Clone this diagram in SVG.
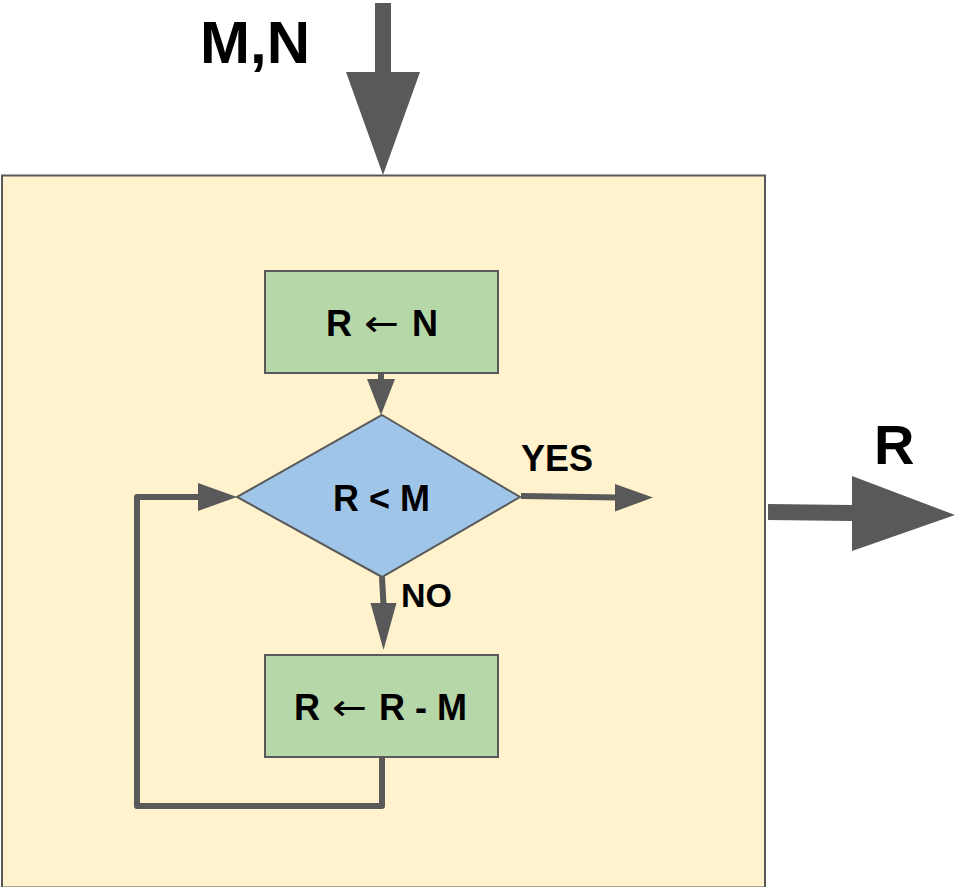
<svg xmlns="http://www.w3.org/2000/svg" width="961" height="887" viewBox="0 0 961 887">
<defs>
<style>
.frame{fill:#fff2cc;stroke:#595959;stroke-width:2}
.proc{fill:#b6d7a8;stroke:#595959;stroke-width:2}
.dec{fill:#9fc5e8;stroke:#595959;stroke-width:2}
.t{font-family:"Liberation Sans",Arial,sans-serif;font-weight:bold;fill:#000}
.ar{font-family:"DejaVu Sans",sans-serif;font-weight:normal;font-size:36px}
.ln{fill:none;stroke:#595959;stroke-width:6;stroke-linejoin:round}
.hd{fill:#595959}
.big{fill:#595959}
</style>
</defs>
<rect width="961" height="887" fill="#fff"/>
<g id="frame">
<rect class="frame" x="2" y="175.5" width="763" height="712"/>
</g>
<g id="input">
<polygon class="big" points="375,3 391,3 391,72 420,72 383,175 346,72 375,72"/>
<text class="t" x="200" y="63" font-size="60">M,N</text>
</g>
<g id="output">
<polygon class="big" points="768,504 852,505 852,476 955,515 852,551 852,521 768,520"/>
<text class="t" x="874" y="464" font-size="56">R</text>
</g>
<g id="init">
<rect class="proc" x="265" y="271" width="233" height="102"/>
<text class="t" y="336" font-size="36"><tspan x="326">R</tspan><tspan class="ar" x="364" textLength="35" lengthAdjust="spacingAndGlyphs">←</tspan><tspan x="412">N</tspan></text>
</g>
<g id="decision">
<polygon class="dec" points="382,415 520,497 382,577 237,497"/>
<text class="t" x="381.5" y="511" font-size="36" text-anchor="middle">R &lt; M</text>
</g>
<g id="update">
<rect class="proc" x="265" y="655" width="233" height="102"/>
<text class="t" y="720" font-size="36"><tspan x="294">R</tspan><tspan class="ar" x="332" textLength="35" lengthAdjust="spacingAndGlyphs">←</tspan><tspan x="379">R - M</tspan></text>
</g>
<g id="connectors">
<line class="ln" x1="381" y1="373" x2="381" y2="381"/>
<polygon class="hd" points="367,379 395,379 381,415"/>
<polyline class="ln" points="521,496 617,497.5"/>
<polygon class="hd" points="615,484 653,497.5 615,511.5"/>
<polyline class="ln" points="382,577 383.5,605"/>
<polygon class="hd" points="370.5,603 396.5,603 383.5,650"/>
<polyline class="ln" points="382,757 382,806 137,806 137,497 200,497"/>
<polygon class="hd" points="198,483 237,497 198,511"/>
</g>
<g id="labels">
<text class="t" x="521" y="471" font-size="36">YES</text>
<text class="t" x="401" y="607" font-size="34">NO</text>
</g>
</svg>
